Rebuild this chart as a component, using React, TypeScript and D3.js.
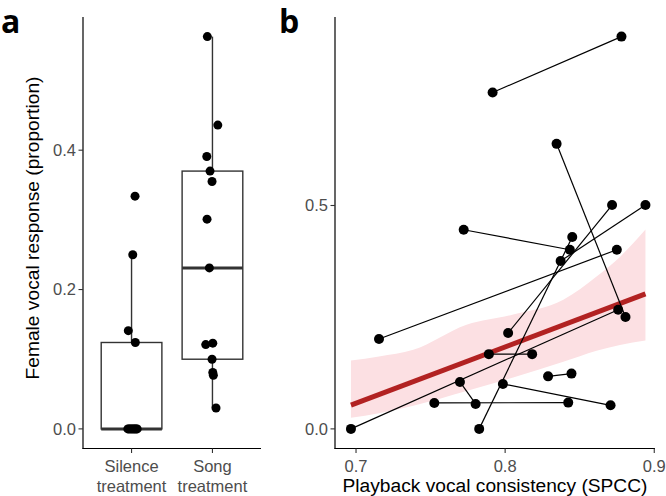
import React from 'react';
import * as d3 from 'd3';

// ---------- Panel a data ----------
const categories = ['Silence', 'Song'];
const categoryLines = [
  ['Silence', 'treatment'],
  ['Song', 'treatment'],
];
const silenceValues = [0.334, 0.25, 0.141, 0.124, 0, 0, 0, 0, 0, 0, 0, 0, 0];
const silenceJitter = [0.043, 0.015, -0.04, 0.047, -0.046, -0.031, -0.016, 0, 0.015, 0.03, 0.043, 0.057, 0.07];
const songValues = [0.563, 0.436, 0.391, 0.37, 0.355, 0.301, 0.231, 0.121, 0.123, 0.1, 0.081, 0.077, 0.03];
const songJitter = [-0.063, 0.066, -0.07, -0.03, -0.005, -0.067, -0.038, -0.083, 0.004, -0.005, 0.004, 0.011, 0.044];
const yTicksA = [0, 0.2, 0.4];

// ---------- Panel b data (paired playbacks per female) ----------
const pairX1 = [0.7916, 0.8345, 0.7722, 0.6966, 0.7154, 0.7891, 0.8288, 0.7697, 0.7525, 0.7985, 0.7826, 0.802, 0.8372];
const pairY1 = [0.753, 0.638, 0.4457, 0.0, 0.2013, 0.1673, 0.1176, 0.1051, 0.0581, 0.1006, 0.0, 0.2147, 0.3757];
const pairX2 = [0.878, 0.8807, 0.8434, 0.8758, 0.8749, 0.8181, 0.8445, 0.7802, 0.8423, 0.8707, 0.845, 0.8717, 0.8941];
const pairY2 = [0.878, 0.2504, 0.401, 0.2668, 0.401, 0.1673, 0.1237, 0.0559, 0.0588, 0.0528, 0.4296, 0.501, 0.501];
const fitX = [0.6966, 0.8941];
const fitY = [0.053, 0.302];
const bandX = [0.6966, 0.7154, 0.7384, 0.7741, 0.8054, 0.839, 0.8613, 0.877, 0.8941];
const bandUpper = [0.153, 0.162, 0.177, 0.233, 0.256, 0.289, 0.341, 0.385, 0.446];
const bandLower = [0.025, 0.035, 0.052, 0.085, 0.115, 0.15, 0.175, 0.188, 0.198];
const xTicksB = [0.7, 0.8, 0.9];
const yTicksB = [0.0, 0.5];

const FONT = 'Liberation Sans, Arial, sans-serif';
const TICK_COLOR = '#4d4d4d';
const TICK_SIZE = 16.5;
const TITLE_SIZE = 19.2;
const TICK_LEN = 4.5;

export default function App() {
  const top = 17;
  const bottom = 448.5;

  // Panel a
  const aLeft = 83;
  const aRight = 261;
  const xA = d3.scalePoint<string>().domain(categories).range([aLeft, aRight]).padding(0.6);
  const stepA = xA.step();
  const yA = d3.scaleLinear().domain([-0.02815, 0.59115]).range([bottom, top]);
  const groups = [
    { cat: 'Silence', values: silenceValues, jitter: silenceJitter },
    { cat: 'Song', values: songValues, jitter: songJitter },
  ];
  const boxWidth = 0.75 * stepA;

  // Panel b
  const bLeft = 335;
  const bRight = 655;
  const xB = d3.scaleLinear().domain([0.6859, 0.9005]).range([bLeft, bRight]);
  const yB = d3.scaleLinear().domain([-0.0439, 0.9219]).range([bottom, top]);
  const bandData = bandX.map((x, i) => ({ x, lo: bandLower[i], hi: bandUpper[i] }));
  const area = d3
    .area<{ x: number; lo: number; hi: number }>()
    .x((d) => xB(d.x))
    .y0((d) => yB(d.lo))
    .y1((d) => yB(d.hi))
    .curve(d3.curveMonotoneX);
  const fitLine = d3
    .line<number>()
    .x((_, i) => xB(fitX[i]))
    .y((d) => yB(d));

  return (
    <svg
      width={666}
      height={496}
      style={{ position: 'absolute', left: 0, top: 0, background: '#fff' }}
      fontFamily={FONT}
    >
      <rect x={0} y={0} width={666} height={496} fill="#fff" />
      {/* panel labels */}
      <text x={1} y={33} fontFamily="'Open Sans', sans-serif" fontWeight="bold" fontSize={32} fill="#000">
        a
      </text>
      <text x={279} y={33} fontFamily="'Open Sans', sans-serif" fontWeight="bold" fontSize={32} fill="#000">
        b
      </text>

      {/* ---------- Panel a ---------- */}
      {groups.map((g) => {
        const sorted = [...g.values].sort(d3.ascending);
        const q1 = d3.quantile(sorted, 0.25) as number;
        const med = d3.quantile(sorted, 0.5) as number;
        const q3 = d3.quantile(sorted, 0.75) as number;
        const iqr = q3 - q1;
        const hiW = d3.max(sorted.filter((v) => v <= q3 + 1.5 * iqr)) as number;
        const loW = d3.min(sorted.filter((v) => v >= q1 - 1.5 * iqr)) as number;
        const cx = xA(g.cat) as number;
        return (
          <g key={g.cat}>
            <line x1={cx} x2={cx} y1={yA(q3)} y2={yA(hiW)} stroke="#333" strokeWidth={1.4} />
            <line x1={cx} x2={cx} y1={yA(q1)} y2={yA(loW)} stroke="#333" strokeWidth={1.4} />
            <rect
              x={cx - boxWidth / 2}
              y={yA(q3)}
              width={boxWidth}
              height={yA(q1) - yA(q3)}
              fill="#fff"
              stroke="#333"
              strokeWidth={1.4}
            />
            <line x1={cx - boxWidth / 2} x2={cx + boxWidth / 2} y1={yA(med)} y2={yA(med)} stroke="#333" strokeWidth={3} />
          </g>
        );
      })}
      {groups.map((g) =>
        g.values.map((v, i) => (
          <circle
            key={g.cat + i}
            cx={(xA(g.cat) as number) + g.jitter[i] * stepA}
            cy={yA(v)}
            r={4.5}
            fill="#000"
          />
        ))
      )}
      {/* axes a */}
      <line x1={aLeft} x2={aLeft} y1={top} y2={bottom + 0.5} stroke="#000" strokeWidth={1.2} />
      <line x1={aLeft - 0.5} x2={aRight} y1={bottom} y2={bottom} stroke="#000" strokeWidth={1.2} />
      {yTicksA.map((t) => (
        <g key={'ya' + t}>
          <line x1={aLeft - TICK_LEN} x2={aLeft} y1={yA(t)} y2={yA(t)} stroke="#333" strokeWidth={1.1} />
          <text
            x={aLeft - TICK_LEN - 2.5}
            y={yA(t)}
            dy="0.36em"
            textAnchor="end"
            fontSize={TICK_SIZE}
            fill={TICK_COLOR}
          >
            {d3.format('.1f')(t)}
          </text>
        </g>
      ))}
      {categories.map((c, ci) => (
        <g key={'xa' + c}>
          <line x1={xA(c)} x2={xA(c)} y1={bottom} y2={bottom + TICK_LEN} stroke="#333" strokeWidth={1.1} />
          {categoryLines[ci].map((ln, li) => (
            <text
              key={li}
              x={xA(c)}
              y={bottom + 23.5 + li * 19.5}
              textAnchor="middle"
              fontSize={TICK_SIZE}
              fill={TICK_COLOR}
            >
              {ln}
            </text>
          ))}
        </g>
      ))}
      <text
        transform={`translate(38.5, 228) rotate(-90)`}
        textAnchor="middle"
        fontSize={TITLE_SIZE}
        fill="#000"
      >
        Female vocal response (proportion)
      </text>

      {/* ---------- Panel b ---------- */}
      <path d={area(bandData) || ''} fill="#fce0e3" />
      <path d={fitLine(fitY) || ''} fill="none" stroke="#b22222" strokeWidth={5} />
      {pairX1.map((x, i) => (
        <line
          key={'seg' + i}
          x1={xB(x)}
          y1={yB(pairY1[i])}
          x2={xB(pairX2[i])}
          y2={yB(pairY2[i])}
          stroke="#000"
          strokeWidth={1.2}
        />
      ))}
      {pairX1.map((x, i) => (
        <g key={'pt' + i}>
          <circle cx={xB(x)} cy={yB(pairY1[i])} r={5} fill="#000" />
          <circle cx={xB(pairX2[i])} cy={yB(pairY2[i])} r={5} fill="#000" />
        </g>
      ))}
      {/* axes b */}
      <line x1={bLeft} x2={bLeft} y1={top} y2={bottom + 0.5} stroke="#000" strokeWidth={1.2} />
      <line x1={bLeft - 0.5} x2={bRight} y1={bottom} y2={bottom} stroke="#000" strokeWidth={1.2} />
      {yTicksB.map((t) => (
        <g key={'yb' + t}>
          <line x1={bLeft - TICK_LEN} x2={bLeft} y1={yB(t)} y2={yB(t)} stroke="#333" strokeWidth={1.1} />
          <text
            x={bLeft - TICK_LEN - 2.5}
            y={yB(t)}
            dy="0.36em"
            textAnchor="end"
            fontSize={TICK_SIZE}
            fill={TICK_COLOR}
          >
            {d3.format('.1f')(t)}
          </text>
        </g>
      ))}
      {xTicksB.map((t) => (
        <g key={'xb' + t}>
          <line x1={xB(t)} x2={xB(t)} y1={bottom} y2={bottom + TICK_LEN} stroke="#333" strokeWidth={1.1} />
          <text x={xB(t)} y={bottom + 23.5} textAnchor="middle" fontSize={TICK_SIZE} fill={TICK_COLOR}>
            {d3.format('.1f')(t)}
          </text>
        </g>
      ))}
      <text x={(bLeft + bRight) / 2} y={492} textAnchor="middle" fontSize={TITLE_SIZE} fill="#000">
        Playback vocal consistency (SPCC)
      </text>
    </svg>
  );
}
